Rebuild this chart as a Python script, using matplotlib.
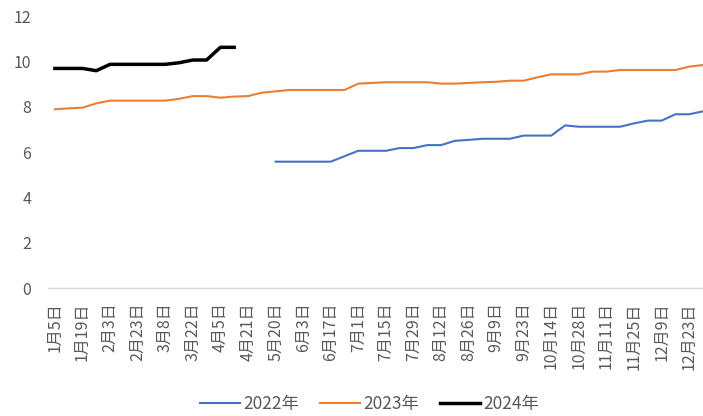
import matplotlib
matplotlib.use('Agg')
import matplotlib.pyplot as plt
import numpy as np

plt.rcParams['font.family'] = ['Noto Sans CJK SC', 'DejaVu Sans']

# week labels (only every other one is shown on the axis)
dates = ['1月5日', '1月12日', '1月19日', '1月26日', '2月3日', '2月16日', '2月23日', '3月1日',
         '3月8日', '3月15日', '3月22日', '3月29日', '4月5日', '4月12日', '4月21日', '4月28日',
         '5月20日', '5月27日', '6月3日', '6月10日', '6月17日', '6月24日', '7月1日', '7月8日',
         '7月15日', '7月22日', '7月29日', '8月5日', '8月12日', '8月19日', '8月26日', '9月2日',
         '9月9日', '9月16日', '9月23日', '9月30日', '10月14日', '10月21日', '10月28日', '11月4日',
         '11月11日', '11月18日', '11月25日', '12月2日', '12月9日', '12月16日', '12月23日', '12月30日']

nan = np.nan
y2022 = [nan] * 16 + [5.58, 5.58, 5.58, 5.58, 5.58, 5.82, 6.06, 6.06, 6.06, 6.18, 6.18, 6.31,
                      6.31, 6.50, 6.54, 6.59, 6.59, 6.59, 6.73, 6.73, 6.73, 7.18, 7.12, 7.12,
                      7.12, 7.12, 7.27, 7.39, 7.39, 7.67, 7.67, 7.80]
y2023 = [7.89, 7.93, 7.96, 8.15, 8.27, 8.27, 8.27, 8.27, 8.27, 8.35, 8.47, 8.47,
         8.40, 8.45, 8.47, 8.62, 8.68, 8.74, 8.74, 8.74, 8.74, 8.74, 9.02, 9.05,
         9.08, 9.08, 9.08, 9.08, 9.02, 9.02, 9.05, 9.08, 9.10, 9.15, 9.15, 9.30,
         9.43, 9.43, 9.43, 9.55, 9.55, 9.62, 9.62, 9.62, 9.62, 9.62, 9.77, 9.84]
y2024 = [9.69, 9.69, 9.69, 9.59, 9.87, 9.87, 9.87, 9.87, 9.87, 9.94, 10.06, 10.06,
         10.62, 10.62] + [nan] * 34

x = np.arange(len(dates))
grey = '#595959'

fig = plt.figure(figsize=(7.03, 4.16), dpi=100)
ax = fig.add_axes([48 / 703, 0.307, 1 - 48 / 703, 0.6545])

ax.plot(x, y2022, color='#4472C4', lw=1.5, label='2022年')
ax.plot(x, y2023, color='#ED7D31', lw=1.5, label='2023年')
ax.plot(x, y2024, color='black', lw=2.5, label='2024年')

ax.set_xlim(-0.5, 47.0)
ax.set_ylim(0, 12)
ax.set_yticks(range(0, 13, 2))
ax.set_xticks(x[::2])
ax.set_xticklabels(dates[::2], rotation=90)

for s in ['top', 'right', 'left']:
    ax.spines[s].set_visible(False)
ax.spines['bottom'].set_color('#D9D9D9')
ax.spines['bottom'].set_linewidth(1)

ax.tick_params(axis='y', length=0, pad=12, labelsize=11.5, labelcolor=grey)
ax.tick_params(axis='x', length=0, pad=10, labelsize=11.5, labelcolor=grey)

fig.legend(loc='center', bbox_to_anchor=(0.526, 0.028), ncol=3, frameon=False,
           fontsize=12.5, labelcolor=grey, handlelength=2.3, handletextpad=0.2,
           columnspacing=1.2)

fig.savefig('out.png', dpi=100)
